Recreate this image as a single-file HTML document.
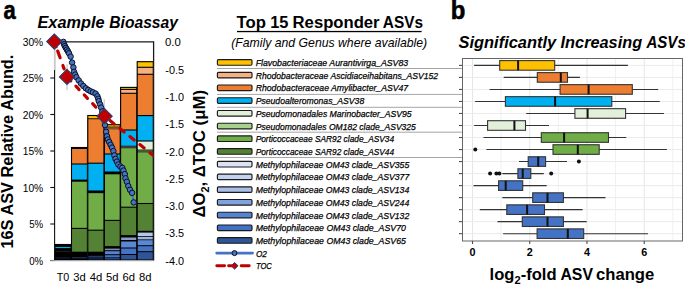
<!DOCTYPE html>
<html><head><meta charset="utf-8"><style>
html,body{margin:0;padding:0;background:#fff;}
svg{display:block;font-family:"Liberation Sans", sans-serif;}
</style></head><body>
<svg xmlns="http://www.w3.org/2000/svg" width="685" height="284" viewBox="0 0 685 284">
<rect width="685" height="284" fill="#fff"/>
<text x="3.4" y="18.7" font-size="25.5" font-weight="bold" font-style="normal" text-anchor="start" textLength="12.2" lengthAdjust="spacingAndGlyphs" fill="#000" stroke="#000" stroke-width="0.6">a</text>
<text x="37.5" y="28.2" font-size="15.6" font-weight="bold" font-style="italic" text-anchor="start" textLength="67.0" lengthAdjust="spacingAndGlyphs" fill="#000" >Example</text>
<text x="109.3" y="28.2" font-size="15.6" font-weight="bold" font-style="italic" text-anchor="start" textLength="68.6" lengthAdjust="spacingAndGlyphs" fill="#000" >Bioassay</text>
<text transform="translate(13.2,248.6) rotate(-90)" font-size="16.3" font-weight="bold" textLength="194" lengthAdjust="spacingAndGlyphs">16S ASV Relative Abund.</text>
<text x="43.2" y="45.5" font-size="11.2" font-weight="normal" font-style="normal" text-anchor="end" textLength="20.5" lengthAdjust="spacingAndGlyphs" fill="#000" >30%</text>
<line x1="50.3" y1="41.50" x2="54.6" y2="41.50" stroke="#111" stroke-width="1.1"/>
<text x="43.2" y="82.0" font-size="11.2" font-weight="normal" font-style="normal" text-anchor="end" textLength="20.5" lengthAdjust="spacingAndGlyphs" fill="#000" >25%</text>
<line x1="50.3" y1="78.00" x2="54.6" y2="78.00" stroke="#111" stroke-width="1.1"/>
<text x="43.2" y="118.5" font-size="11.2" font-weight="normal" font-style="normal" text-anchor="end" textLength="20.5" lengthAdjust="spacingAndGlyphs" fill="#000" >20%</text>
<line x1="50.3" y1="114.50" x2="54.6" y2="114.50" stroke="#111" stroke-width="1.1"/>
<text x="43.2" y="155.0" font-size="11.2" font-weight="normal" font-style="normal" text-anchor="end" textLength="20.5" lengthAdjust="spacingAndGlyphs" fill="#000" >15%</text>
<line x1="50.3" y1="151.00" x2="54.6" y2="151.00" stroke="#111" stroke-width="1.1"/>
<text x="43.2" y="191.5" font-size="11.2" font-weight="normal" font-style="normal" text-anchor="end" textLength="20.5" lengthAdjust="spacingAndGlyphs" fill="#000" >10%</text>
<line x1="50.3" y1="187.50" x2="54.6" y2="187.50" stroke="#111" stroke-width="1.1"/>
<text x="43.2" y="228.0" font-size="11.2" font-weight="normal" font-style="normal" text-anchor="end" textLength="14.0" lengthAdjust="spacingAndGlyphs" fill="#000" >5%</text>
<line x1="50.3" y1="224.00" x2="54.6" y2="224.00" stroke="#111" stroke-width="1.1"/>
<text x="43.2" y="264.5" font-size="11.2" font-weight="normal" font-style="normal" text-anchor="end" textLength="14.0" lengthAdjust="spacingAndGlyphs" fill="#000" >0%</text>
<line x1="50.3" y1="260.50" x2="54.6" y2="260.50" stroke="#111" stroke-width="1.1"/>
<rect x="54.6" y="244" width="16.70" height="16.00" fill="#000000"/>
<rect x="54.6" y="247" width="16.70" height="13.00" fill="#00B0F0"/>
<rect x="54.6" y="248.1" width="16.70" height="11.90" fill="#000000"/>
<rect x="54.6" y="250.8" width="16.70" height="9.20" fill="#1e2a16"/>
<rect x="54.6" y="251.8" width="16.70" height="8.20" fill="#000000"/>
<rect x="54.6" y="257.4" width="16.70" height="2.60" fill="#13213a"/>
<rect x="54.6" y="258.6" width="16.70" height="1.40" fill="#000000"/>
<rect x="54.800000000000004" y="244.5" width="16.30" height="15.50" fill="none" stroke="#000" stroke-width="1.1"/>
<rect x="71.3" y="147" width="16.30" height="113.00" fill="#000000"/>
<rect x="71.3" y="149" width="16.30" height="111.00" fill="#ED7D31"/>
<rect x="71.3" y="164" width="16.30" height="96.00" fill="#00B0F0"/>
<rect x="71.3" y="179.6" width="16.30" height="80.40" fill="#000000"/>
<rect x="71.3" y="181.7" width="16.30" height="78.30" fill="#70AD47"/>
<rect x="71.3" y="228.4" width="16.30" height="31.60" fill="#548235"/>
<rect x="71.3" y="251.7" width="16.30" height="8.30" fill="#000000"/>
<rect x="71.3" y="257" width="16.30" height="3.00" fill="#1a2c4e"/>
<rect x="71.3" y="258.4" width="16.30" height="1.60" fill="#000000"/>
<rect x="71.5" y="147.5" width="15.90" height="112.50" fill="none" stroke="#000" stroke-width="1.1"/>
<rect x="87.6" y="115.0" width="16.60" height="145.00" fill="#FFC000"/>
<rect x="87.6" y="118.3" width="16.60" height="141.70" fill="#000000"/>
<rect x="87.6" y="119.2" width="16.60" height="140.80" fill="#ED7D31"/>
<rect x="87.6" y="163.2" width="16.60" height="96.80" fill="#00B0F0"/>
<rect x="87.6" y="190.5" width="16.60" height="69.50" fill="#000000"/>
<rect x="87.6" y="192.6" width="16.60" height="67.40" fill="#70AD47"/>
<rect x="87.6" y="230.2" width="16.60" height="29.80" fill="#548235"/>
<rect x="87.6" y="251.7" width="16.60" height="8.30" fill="#000000"/>
<rect x="87.6" y="255.8" width="16.60" height="4.20" fill="#22386a"/>
<rect x="87.6" y="257.6" width="16.60" height="2.40" fill="#000000"/>
<rect x="87.6" y="258.4" width="16.60" height="1.60" fill="#1c3260"/>
<rect x="87.8" y="115.5" width="16.20" height="144.50" fill="none" stroke="#000" stroke-width="1.1"/>
<rect x="104.2" y="124.2" width="16.20" height="135.80" fill="#FFC000"/>
<rect x="104.2" y="126.6" width="16.20" height="133.40" fill="#000000"/>
<rect x="104.2" y="127.1" width="16.20" height="132.90" fill="#7a573a"/>
<rect x="104.2" y="129.5" width="16.20" height="130.50" fill="#ED7D31"/>
<rect x="104.2" y="154" width="16.20" height="106.00" fill="#00B0F0"/>
<rect x="104.2" y="171.5" width="16.20" height="88.50" fill="#000000"/>
<rect x="104.2" y="174.3" width="16.20" height="85.70" fill="#70AD47"/>
<rect x="104.2" y="220.4" width="16.20" height="39.60" fill="#548235"/>
<rect x="104.2" y="246.1" width="16.20" height="13.90" fill="#000000"/>
<rect x="104.2" y="248.6" width="16.20" height="11.40" fill="#8090b0"/>
<rect x="104.2" y="250.2" width="16.20" height="9.80" fill="#000000"/>
<rect x="104.2" y="251.2" width="16.20" height="8.80" fill="#5583D3"/>
<rect x="104.2" y="254.2" width="16.20" height="5.80" fill="#000000"/>
<rect x="104.2" y="255.2" width="16.20" height="4.80" fill="#4472C4"/>
<rect x="104.2" y="257.4" width="16.20" height="2.60" fill="#000000"/>
<rect x="104.2" y="258.2" width="16.20" height="1.80" fill="#2F5597"/>
<rect x="104.4" y="124.7" width="15.80" height="135.30" fill="none" stroke="#000" stroke-width="1.1"/>
<rect x="120.4" y="86.9" width="16.60" height="173.10" fill="#FFC000"/>
<rect x="120.4" y="89.4" width="16.60" height="170.60" fill="#F4B183"/>
<rect x="120.4" y="93.3" width="16.60" height="166.70" fill="#ED7D31"/>
<rect x="120.4" y="130" width="16.60" height="130.00" fill="#00B0F0"/>
<rect x="120.4" y="145.6" width="16.60" height="114.40" fill="#3a3a3a"/>
<rect x="120.4" y="148.3" width="16.60" height="111.70" fill="#70AD47"/>
<rect x="120.4" y="207.2" width="16.60" height="52.80" fill="#548235"/>
<rect x="120.4" y="235.1" width="16.60" height="24.90" fill="#000000"/>
<rect x="120.4" y="237.5" width="16.60" height="22.50" fill="#8a9cc4"/>
<rect x="120.4" y="240" width="16.60" height="20.00" fill="#000000"/>
<rect x="120.4" y="241.5" width="16.60" height="18.50" fill="#5A88D5"/>
<rect x="120.4" y="247.5" width="16.60" height="12.50" fill="#000000"/>
<rect x="120.4" y="248.5" width="16.60" height="11.50" fill="#4472C4"/>
<rect x="120.4" y="254" width="16.60" height="6.00" fill="#000000"/>
<rect x="120.4" y="255" width="16.60" height="5.00" fill="#2F5597"/>
<rect x="120.60000000000001" y="87.4" width="16.20" height="172.60" fill="none" stroke="#000" stroke-width="1.1"/>
<rect x="137.0" y="61.2" width="16.50" height="198.80" fill="#FFC000"/>
<rect x="137.0" y="67.3" width="16.50" height="192.70" fill="#F4B183"/>
<rect x="137.0" y="74.3" width="16.50" height="185.70" fill="#ED7D31"/>
<rect x="137.0" y="115.6" width="16.50" height="144.40" fill="#00B0F0"/>
<rect x="137.0" y="141" width="16.50" height="119.00" fill="#E2F0D9"/>
<rect x="137.0" y="149.4" width="16.50" height="110.60" fill="#3d5a30"/>
<rect x="137.0" y="152.6" width="16.50" height="107.40" fill="#70AD47"/>
<rect x="137.0" y="203.5" width="16.50" height="56.50" fill="#548235"/>
<rect x="137.0" y="230.8" width="16.50" height="29.20" fill="#000000"/>
<rect x="137.0" y="232.6" width="16.50" height="27.40" fill="#B4C7E7"/>
<rect x="137.0" y="236.2" width="16.50" height="23.80" fill="#000000"/>
<rect x="137.0" y="237" width="16.50" height="23.00" fill="#9DB5E3"/>
<rect x="137.0" y="239.4" width="16.50" height="20.60" fill="#000000"/>
<rect x="137.0" y="240.2" width="16.50" height="19.80" fill="#5A88D5"/>
<rect x="137.0" y="245.2" width="16.50" height="14.80" fill="#000000"/>
<rect x="137.0" y="246.2" width="16.50" height="13.80" fill="#4472C4"/>
<rect x="137.0" y="251.2" width="16.50" height="8.80" fill="#000000"/>
<rect x="137.0" y="252.2" width="16.50" height="7.80" fill="#2F5597"/>
<rect x="137.2" y="61.7" width="16.10" height="198.30" fill="none" stroke="#000" stroke-width="1.1"/>
<line x1="71.3" y1="164" x2="87.6" y2="164" stroke="#000" stroke-width="1.1"/>
<line x1="71.3" y1="228.4" x2="87.6" y2="228.4" stroke="#000" stroke-width="1.1"/>
<line x1="87.6" y1="163.2" x2="104.2" y2="163.2" stroke="#000" stroke-width="1.1"/>
<line x1="87.6" y1="192.6" x2="104.2" y2="192.6" stroke="#000" stroke-width="1.1"/>
<line x1="87.6" y1="230.2" x2="104.2" y2="230.2" stroke="#000" stroke-width="1.1"/>
<line x1="104.2" y1="154" x2="120.4" y2="154" stroke="#000" stroke-width="1.1"/>
<line x1="104.2" y1="220.4" x2="120.4" y2="220.4" stroke="#000" stroke-width="1.1"/>
<line x1="120.4" y1="89.4" x2="137.0" y2="89.4" stroke="#000" stroke-width="1.1"/>
<line x1="120.4" y1="93.3" x2="137.0" y2="93.3" stroke="#000" stroke-width="1.1"/>
<line x1="120.4" y1="130" x2="137.0" y2="130" stroke="#000" stroke-width="1.1"/>
<line x1="120.4" y1="207.2" x2="137.0" y2="207.2" stroke="#000" stroke-width="1.1"/>
<line x1="137.0" y1="67.3" x2="153.5" y2="67.3" stroke="#000" stroke-width="1.1"/>
<line x1="137.0" y1="74.3" x2="153.5" y2="74.3" stroke="#000" stroke-width="1.1"/>
<line x1="137.0" y1="115.6" x2="153.5" y2="115.6" stroke="#000" stroke-width="1.1"/>
<line x1="137.0" y1="141" x2="153.5" y2="141" stroke="#000" stroke-width="1.1"/>
<line x1="137.0" y1="203.5" x2="153.5" y2="203.5" stroke="#000" stroke-width="1.1"/>
<line x1="54.6" y1="41.9" x2="153.6" y2="41.9" stroke="#1a1a1a" stroke-width="1.3"/>
<line x1="153.6" y1="41.3" x2="153.6" y2="260.5" stroke="#1a1a1a" stroke-width="1.3"/>
<line x1="54.6" y1="41.5" x2="54.6" y2="260.8" stroke="#111" stroke-width="1.1"/>
<line x1="50.5" y1="260.8" x2="153.6" y2="260.8" stroke="#bfbfbf" stroke-width="1"/>
<text x="62.95" y="281.3" font-size="11.5" font-weight="normal" font-style="normal" text-anchor="middle" textLength="12.5" lengthAdjust="spacingAndGlyphs" fill="#000" >T0</text>
<text x="79.45" y="281.3" font-size="11.5" font-weight="normal" font-style="normal" text-anchor="middle" textLength="12.5" lengthAdjust="spacingAndGlyphs" fill="#000" >3d</text>
<text x="95.9" y="281.3" font-size="11.5" font-weight="normal" font-style="normal" text-anchor="middle" textLength="12.5" lengthAdjust="spacingAndGlyphs" fill="#000" >4d</text>
<text x="112.3" y="281.3" font-size="11.5" font-weight="normal" font-style="normal" text-anchor="middle" textLength="12.5" lengthAdjust="spacingAndGlyphs" fill="#000" >5d</text>
<text x="128.7" y="281.3" font-size="11.5" font-weight="normal" font-style="normal" text-anchor="middle" textLength="12.5" lengthAdjust="spacingAndGlyphs" fill="#000" >6d</text>
<text x="145.25" y="281.3" font-size="11.5" font-weight="normal" font-style="normal" text-anchor="middle" textLength="12.5" lengthAdjust="spacingAndGlyphs" fill="#000" >8d</text>
<text x="165.0" y="46.3" font-size="11.2" font-weight="normal" font-style="normal" text-anchor="start" textLength="15.8" lengthAdjust="spacingAndGlyphs" fill="#000" >0.0</text>
<text x="165.3" y="73.6" font-size="11.2" font-weight="normal" font-style="normal" text-anchor="start" textLength="18.8" lengthAdjust="spacingAndGlyphs" fill="#000" >-0.5</text>
<text x="165.3" y="100.9" font-size="11.2" font-weight="normal" font-style="normal" text-anchor="start" textLength="18.8" lengthAdjust="spacingAndGlyphs" fill="#000" >-1.0</text>
<text x="165.3" y="128.2" font-size="11.2" font-weight="normal" font-style="normal" text-anchor="start" textLength="18.8" lengthAdjust="spacingAndGlyphs" fill="#000" >-1.5</text>
<text x="165.3" y="155.5" font-size="11.2" font-weight="normal" font-style="normal" text-anchor="start" textLength="18.8" lengthAdjust="spacingAndGlyphs" fill="#000" >-2.0</text>
<text x="165.3" y="182.8" font-size="11.2" font-weight="normal" font-style="normal" text-anchor="start" textLength="18.8" lengthAdjust="spacingAndGlyphs" fill="#000" >-2.5</text>
<text x="165.3" y="210.1" font-size="11.2" font-weight="normal" font-style="normal" text-anchor="start" textLength="18.8" lengthAdjust="spacingAndGlyphs" fill="#000" >-3.0</text>
<text x="165.3" y="237.4" font-size="11.2" font-weight="normal" font-style="normal" text-anchor="start" textLength="18.8" lengthAdjust="spacingAndGlyphs" fill="#000" >-3.5</text>
<text x="165.3" y="264.7" font-size="11.2" font-weight="normal" font-style="normal" text-anchor="start" textLength="18.8" lengthAdjust="spacingAndGlyphs" fill="#000" >-4.0</text>
<text transform="translate(205.4,217.6) rotate(-90)" font-size="16.3" font-weight="bold" textLength="127.6" lengthAdjust="spacingAndGlyphs">&#916;O<tspan font-size="10.5" dy="3.5">2</tspan><tspan dy="-3.5">, &#916;TOC (&#956;M)</tspan></text>
<line x1="54.5" y1="42" x2="54.5" y2="70" stroke="#c8c8c8" stroke-width="1.2"/>
<line x1="67.0" y1="64.2" x2="67.0" y2="90.3" stroke="#c8c8c8" stroke-width="1.2"/>
<line x1="104.2" y1="99.2" x2="104.2" y2="121" stroke="#c8c8c8" stroke-width="1.2"/>
<line x1="54.91" y1="43.29" x2="56.13" y2="46.68" stroke="#C00000" stroke-width="3.2" stroke-linecap="round"/>
<line x1="57.72" y1="51.10" x2="60.12" y2="57.78" stroke="#C00000" stroke-width="3.2" stroke-linecap="round"/>
<line x1="62.90" y1="65.50" x2="64.12" y2="68.89" stroke="#C00000" stroke-width="3.2" stroke-linecap="round"/>
<line x1="66.89" y1="76.60" x2="66.62" y2="75.85" stroke="#C00000" stroke-width="3.2" stroke-linecap="round"/>
<line x1="68.11" y1="78.06" x2="70.80" y2="80.87" stroke="#C00000" stroke-width="3.2" stroke-linecap="round"/>
<line x1="75.92" y1="86.22" x2="79.10" y2="89.54" stroke="#C00000" stroke-width="3.2" stroke-linecap="round"/>
<line x1="84.28" y1="94.96" x2="87.46" y2="98.29" stroke="#C00000" stroke-width="3.2" stroke-linecap="round"/>
<line x1="92.65" y1="103.71" x2="95.83" y2="107.03" stroke="#C00000" stroke-width="3.2" stroke-linecap="round"/>
<line x1="101.01" y1="112.45" x2="103.92" y2="115.48" stroke="#C00000" stroke-width="3.2" stroke-linecap="round"/>
<defs><clipPath id="pa"><rect x="40" y="30" width="113.6" height="240"/></clipPath></defs>
<g clip-path="url(#pa)">
<line x1="105.85" y1="117.20" x2="104.13" y2="115.82" stroke="#C00000" stroke-width="3.2" stroke-linecap="round"/>
<line x1="109.98" y1="120.53" x2="114.18" y2="123.91" stroke="#C00000" stroke-width="3.2" stroke-linecap="round"/>
<line x1="119.95" y1="128.55" x2="124.15" y2="131.94" stroke="#C00000" stroke-width="3.2" stroke-linecap="round"/>
<line x1="129.92" y1="136.58" x2="134.12" y2="139.96" stroke="#C00000" stroke-width="3.2" stroke-linecap="round"/>
<line x1="139.89" y1="144.60" x2="144.10" y2="147.99" stroke="#C00000" stroke-width="3.2" stroke-linecap="round"/>
<line x1="149.86" y1="152.63" x2="154.07" y2="156.02" stroke="#C00000" stroke-width="3.2" stroke-linecap="round"/>
</g>
<polyline points="58,41.6 63.4,41.9 64.1,44.3 64.9,46.1 65.9,47.9 66.9,49.6 68,51.4 69,53.3 70.6,56.6 72.1,62.6 73.4,67.4 74.0,71.8 75.2,74.6 76.4,77.2 78.7,80.4 81,83.5 83.4,86 85.8,88.3 88.2,89.9 90.6,91.3 92.9,92.3 95.6,93.6 97.4,96.2 98.3,98.8 98.8,101.2 100.1,104.3 101.2,107.6 102.3,111.5 103.3,115.5 104.3,120 105,125.1 106.1,131.8 107,136.3 107.9,139.5 109.2,142 110.6,144.8 112,147.6 113.4,151.1 114.4,155.4 115.5,158.9 116.9,161.7 118.3,164.5 120.4,166.6 122.3,167.9 123.4,170.6 124.8,174.1 125.5,178.3 126.9,181.8 128.3,186.1 130,189.8 132.1,192.9 133.7,202.4" fill="none" stroke="#4472C4" stroke-width="2"/>
<circle cx="58" cy="41.6" r="2.75" fill="#4472C4" stroke="#0a1020" stroke-width="1"/>
<circle cx="63.4" cy="41.9" r="2.75" fill="#4472C4" stroke="#0a1020" stroke-width="1"/>
<circle cx="64.1" cy="44.3" r="2.75" fill="#4472C4" stroke="#0a1020" stroke-width="1"/>
<circle cx="64.9" cy="46.1" r="2.75" fill="#4472C4" stroke="#0a1020" stroke-width="1"/>
<circle cx="65.9" cy="47.9" r="2.75" fill="#4472C4" stroke="#0a1020" stroke-width="1"/>
<circle cx="66.9" cy="49.6" r="2.75" fill="#4472C4" stroke="#0a1020" stroke-width="1"/>
<circle cx="68" cy="51.4" r="2.75" fill="#4472C4" stroke="#0a1020" stroke-width="1"/>
<circle cx="69" cy="53.3" r="2.75" fill="#4472C4" stroke="#0a1020" stroke-width="1"/>
<circle cx="70.6" cy="56.6" r="2.75" fill="#4472C4" stroke="#0a1020" stroke-width="1"/>
<circle cx="72.1" cy="62.6" r="2.75" fill="#4472C4" stroke="#0a1020" stroke-width="1"/>
<circle cx="73.4" cy="67.4" r="2.75" fill="#4472C4" stroke="#0a1020" stroke-width="1"/>
<circle cx="74.0" cy="71.8" r="2.75" fill="#4472C4" stroke="#0a1020" stroke-width="1"/>
<circle cx="75.2" cy="74.6" r="2.75" fill="#4472C4" stroke="#0a1020" stroke-width="1"/>
<circle cx="76.4" cy="77.2" r="2.75" fill="#4472C4" stroke="#0a1020" stroke-width="1"/>
<circle cx="78.7" cy="80.4" r="2.75" fill="#4472C4" stroke="#0a1020" stroke-width="1"/>
<circle cx="81" cy="83.5" r="2.75" fill="#4472C4" stroke="#0a1020" stroke-width="1"/>
<circle cx="83.4" cy="86" r="2.75" fill="#4472C4" stroke="#0a1020" stroke-width="1"/>
<circle cx="85.8" cy="88.3" r="2.75" fill="#4472C4" stroke="#0a1020" stroke-width="1"/>
<circle cx="88.2" cy="89.9" r="2.75" fill="#4472C4" stroke="#0a1020" stroke-width="1"/>
<circle cx="90.6" cy="91.3" r="2.75" fill="#4472C4" stroke="#0a1020" stroke-width="1"/>
<circle cx="92.9" cy="92.3" r="2.75" fill="#4472C4" stroke="#0a1020" stroke-width="1"/>
<circle cx="95.6" cy="93.6" r="2.75" fill="#4472C4" stroke="#0a1020" stroke-width="1"/>
<circle cx="97.4" cy="96.2" r="2.75" fill="#4472C4" stroke="#0a1020" stroke-width="1"/>
<circle cx="98.3" cy="98.8" r="2.75" fill="#4472C4" stroke="#0a1020" stroke-width="1"/>
<circle cx="98.8" cy="101.2" r="2.75" fill="#4472C4" stroke="#0a1020" stroke-width="1"/>
<circle cx="100.1" cy="104.3" r="2.75" fill="#4472C4" stroke="#0a1020" stroke-width="1"/>
<circle cx="101.2" cy="107.6" r="2.75" fill="#4472C4" stroke="#0a1020" stroke-width="1"/>
<circle cx="102.3" cy="111.5" r="2.75" fill="#4472C4" stroke="#0a1020" stroke-width="1"/>
<circle cx="103.3" cy="115.5" r="2.75" fill="#4472C4" stroke="#0a1020" stroke-width="1"/>
<circle cx="104.3" cy="120" r="2.75" fill="#4472C4" stroke="#0a1020" stroke-width="1"/>
<circle cx="105" cy="125.1" r="2.75" fill="#4472C4" stroke="#0a1020" stroke-width="1"/>
<circle cx="106.1" cy="131.8" r="2.75" fill="#4472C4" stroke="#0a1020" stroke-width="1"/>
<circle cx="107" cy="136.3" r="2.75" fill="#4472C4" stroke="#0a1020" stroke-width="1"/>
<circle cx="107.9" cy="139.5" r="2.75" fill="#4472C4" stroke="#0a1020" stroke-width="1"/>
<circle cx="109.2" cy="142" r="2.75" fill="#4472C4" stroke="#0a1020" stroke-width="1"/>
<circle cx="110.6" cy="144.8" r="2.75" fill="#4472C4" stroke="#0a1020" stroke-width="1"/>
<circle cx="112" cy="147.6" r="2.75" fill="#4472C4" stroke="#0a1020" stroke-width="1"/>
<circle cx="113.4" cy="151.1" r="2.75" fill="#4472C4" stroke="#0a1020" stroke-width="1"/>
<circle cx="114.4" cy="155.4" r="2.75" fill="#4472C4" stroke="#0a1020" stroke-width="1"/>
<circle cx="115.5" cy="158.9" r="2.75" fill="#4472C4" stroke="#0a1020" stroke-width="1"/>
<circle cx="116.9" cy="161.7" r="2.75" fill="#4472C4" stroke="#0a1020" stroke-width="1"/>
<circle cx="118.3" cy="164.5" r="2.75" fill="#4472C4" stroke="#0a1020" stroke-width="1"/>
<circle cx="120.4" cy="166.6" r="2.75" fill="#4472C4" stroke="#0a1020" stroke-width="1"/>
<circle cx="122.3" cy="167.9" r="2.75" fill="#4472C4" stroke="#0a1020" stroke-width="1"/>
<circle cx="123.4" cy="170.6" r="2.75" fill="#4472C4" stroke="#0a1020" stroke-width="1"/>
<circle cx="124.8" cy="174.1" r="2.75" fill="#4472C4" stroke="#0a1020" stroke-width="1"/>
<circle cx="125.5" cy="178.3" r="2.75" fill="#4472C4" stroke="#0a1020" stroke-width="1"/>
<circle cx="126.9" cy="181.8" r="2.75" fill="#4472C4" stroke="#0a1020" stroke-width="1"/>
<circle cx="128.3" cy="186.1" r="2.75" fill="#4472C4" stroke="#0a1020" stroke-width="1"/>
<circle cx="130" cy="189.8" r="2.75" fill="#4472C4" stroke="#0a1020" stroke-width="1"/>
<circle cx="132.1" cy="192.9" r="2.75" fill="#4472C4" stroke="#0a1020" stroke-width="1"/>
<circle cx="133.7" cy="202.4" r="2.75" fill="#4472C4" stroke="#0a1020" stroke-width="1"/>
<polygon points="54.3,34.0 61.9,41.6 54.3,49.2 46.699999999999996,41.6" fill="#C00000" stroke="#2f3d6e" stroke-width="1.1"/>
<polygon points="67,69.30000000000001 74.6,76.9 67,84.5 59.4,76.9" fill="#C00000" stroke="#2f3d6e" stroke-width="1.1"/>
<polygon points="104.6,108.60000000000001 112.19999999999999,116.2 104.6,123.8 97.0,116.2" fill="#C00000" stroke="#2f3d6e" stroke-width="1.1"/>
<text x="236.6" y="28" font-size="15.8" font-weight="bold" font-style="normal" text-anchor="start" textLength="29.4" lengthAdjust="spacingAndGlyphs" fill="#000" >Top</text>
<text x="270.2" y="28" font-size="15.8" font-weight="bold" font-style="normal" text-anchor="start" textLength="18.2" lengthAdjust="spacingAndGlyphs" fill="#000" >15</text>
<text x="292.6" y="28" font-size="15.8" font-weight="bold" font-style="normal" text-anchor="start" textLength="87.0" lengthAdjust="spacingAndGlyphs" fill="#000" >Responder</text>
<text x="382.8" y="28" font-size="15.8" font-weight="bold" font-style="normal" text-anchor="start" textLength="40.2" lengthAdjust="spacingAndGlyphs" fill="#000" >ASVs</text>
<rect x="237" y="30.9" width="184.6" height="1.3" fill="#000"/>
<text x="231.2" y="47.3" font-size="12.2" font-weight="normal" font-style="italic" text-anchor="start" textLength="196" lengthAdjust="spacingAndGlyphs" fill="#000" >(Family and Genus where available)</text>
<line x1="217" y1="68.5" x2="462.4" y2="68.5" stroke="#a6a6a6" stroke-width="1"/>
<line x1="217" y1="94.4" x2="462.4" y2="94.4" stroke="#a6a6a6" stroke-width="1"/>
<line x1="217" y1="107.3" x2="462.4" y2="107.3" stroke="#a6a6a6" stroke-width="1"/>
<line x1="217" y1="132.2" x2="462.4" y2="132.2" stroke="#a6a6a6" stroke-width="1"/>
<line x1="217" y1="157.5" x2="462.4" y2="157.5" stroke="#a6a6a6" stroke-width="1"/>
<rect x="217.4" y="59.60" width="34.6" height="5.6" rx="1.1" fill="#FFC000" stroke="#1a1a1a" stroke-width="1.15"/>
<text x="255.7" y="65.9" font-size="9.6" font-weight="normal" font-style="italic" text-anchor="start" textLength="152.5" lengthAdjust="spacingAndGlyphs" fill="#000" stroke="#000" stroke-width="0.25">Flavobacteriaceae Aurantivirga_ASV83</text>
<rect x="217.4" y="72.32" width="34.6" height="5.6" rx="1.1" fill="#F4B183" stroke="#1a1a1a" stroke-width="1.15"/>
<text x="255.7" y="78.62" font-size="9.6" font-weight="normal" font-style="italic" text-anchor="start" textLength="182.4" lengthAdjust="spacingAndGlyphs" fill="#000" stroke="#000" stroke-width="0.25">Rhodobacteraceae Ascidiaceihabitans_ASV152</text>
<rect x="217.4" y="85.04" width="34.6" height="5.6" rx="1.1" fill="#ED7D31" stroke="#1a1a1a" stroke-width="1.15"/>
<text x="255.7" y="91.34" font-size="9.6" font-weight="normal" font-style="italic" text-anchor="start" textLength="152.5" lengthAdjust="spacingAndGlyphs" fill="#000" stroke="#000" stroke-width="0.25">Rhodobacteraceae Amylibacter_ASV47</text>
<rect x="217.4" y="97.76" width="34.6" height="5.6" rx="1.1" fill="#00B0F0" stroke="#1a1a1a" stroke-width="1.15"/>
<text x="255.7" y="104.06" font-size="9.6" font-weight="normal" font-style="italic" text-anchor="start" textLength="108.5" lengthAdjust="spacingAndGlyphs" fill="#000" stroke="#000" stroke-width="0.25">Pseudoalteromonas_ASV38</text>
<rect x="217.4" y="110.48" width="34.6" height="5.6" rx="1.1" fill="#E2F0D9" stroke="#1a1a1a" stroke-width="1.15"/>
<text x="255.7" y="116.78" font-size="9.6" font-weight="normal" font-style="italic" text-anchor="start" textLength="156.0" lengthAdjust="spacingAndGlyphs" fill="#000" stroke="#000" stroke-width="0.25">Pseudomonadales Marinobacter_ASV95</text>
<rect x="217.4" y="123.20" width="34.6" height="5.6" rx="1.1" fill="#A9D18E" stroke="#1a1a1a" stroke-width="1.15"/>
<text x="255.7" y="129.5" font-size="9.6" font-weight="normal" font-style="italic" text-anchor="start" textLength="160.2" lengthAdjust="spacingAndGlyphs" fill="#000" stroke="#000" stroke-width="0.25">Pseudomonadales OM182 clade_ASV325</text>
<rect x="217.4" y="135.92" width="34.6" height="5.6" rx="1.1" fill="#70AD47" stroke="#1a1a1a" stroke-width="1.15"/>
<text x="255.7" y="142.22" font-size="9.6" font-weight="normal" font-style="italic" text-anchor="start" textLength="138.4" lengthAdjust="spacingAndGlyphs" fill="#000" stroke="#000" stroke-width="0.25">Porticoccaceae SAR92 clade_ASV34</text>
<rect x="217.4" y="148.64" width="34.6" height="5.6" rx="1.1" fill="#548235" stroke="#1a1a1a" stroke-width="1.15"/>
<text x="255.7" y="154.94" font-size="9.6" font-weight="normal" font-style="italic" text-anchor="start" textLength="138.4" lengthAdjust="spacingAndGlyphs" fill="#000" stroke="#000" stroke-width="0.25">Porticoccaceae SAR92 clade_ASV44</text>
<rect x="217.4" y="161.36" width="34.6" height="5.6" rx="1.1" fill="#DAE3F3" stroke="#1a1a1a" stroke-width="1.15"/>
<text x="255.7" y="167.66" font-size="9.6" font-weight="normal" font-style="italic" text-anchor="start" textLength="153.6" lengthAdjust="spacingAndGlyphs" fill="#000" stroke="#000" stroke-width="0.25">Methylophilaceae OM43 clade_ASV355</text>
<rect x="217.4" y="174.08" width="34.6" height="5.6" rx="1.1" fill="#C3D2EE" stroke="#1a1a1a" stroke-width="1.15"/>
<text x="255.7" y="180.38" font-size="9.6" font-weight="normal" font-style="italic" text-anchor="start" textLength="153.6" lengthAdjust="spacingAndGlyphs" fill="#000" stroke="#000" stroke-width="0.25">Methylophilaceae OM43 clade_ASV377</text>
<rect x="217.4" y="186.80" width="34.6" height="5.6" rx="1.1" fill="#A9BFE6" stroke="#1a1a1a" stroke-width="1.15"/>
<text x="255.7" y="193.1" font-size="9.6" font-weight="normal" font-style="italic" text-anchor="start" textLength="153.6" lengthAdjust="spacingAndGlyphs" fill="#000" stroke="#000" stroke-width="0.25">Methylophilaceae OM43 clade_ASV134</text>
<rect x="217.4" y="199.52" width="34.6" height="5.6" rx="1.1" fill="#7FA1DF" stroke="#1a1a1a" stroke-width="1.15"/>
<text x="255.7" y="205.82" font-size="9.6" font-weight="normal" font-style="italic" text-anchor="start" textLength="153.6" lengthAdjust="spacingAndGlyphs" fill="#000" stroke="#000" stroke-width="0.25">Methylophilaceae OM43 clade_ASV244</text>
<rect x="217.4" y="212.24" width="34.6" height="5.6" rx="1.1" fill="#5283D6" stroke="#1a1a1a" stroke-width="1.15"/>
<text x="255.7" y="218.54" font-size="9.6" font-weight="normal" font-style="italic" text-anchor="start" textLength="153.6" lengthAdjust="spacingAndGlyphs" fill="#000" stroke="#000" stroke-width="0.25">Methylophilaceae OM43 clade_ASV132</text>
<rect x="217.4" y="224.96" width="34.6" height="5.6" rx="1.1" fill="#4170C6" stroke="#1a1a1a" stroke-width="1.15"/>
<text x="255.7" y="231.26" font-size="9.6" font-weight="normal" font-style="italic" text-anchor="start" textLength="150.2" lengthAdjust="spacingAndGlyphs" fill="#000" stroke="#000" stroke-width="0.25">Methylophilaceae OM43 clade_ASV70</text>
<rect x="217.4" y="237.68" width="34.6" height="5.6" rx="1.1" fill="#2F5597" stroke="#1a1a1a" stroke-width="1.15"/>
<text x="255.7" y="243.98" font-size="9.6" font-weight="normal" font-style="italic" text-anchor="start" textLength="150.2" lengthAdjust="spacingAndGlyphs" fill="#000" stroke="#000" stroke-width="0.25">Methylophilaceae OM43 clade_ASV65</text>
<line x1="216.6" y1="253.1" x2="252.6" y2="253.1" stroke="#4472C4" stroke-width="2.6" stroke-linecap="round"/>
<circle cx="234.5" cy="253.1" r="2.5" fill="#4472C4" stroke="#111" stroke-width="1"/>
<text x="255.9" y="256.7" font-size="9.9" font-weight="normal" font-style="italic" text-anchor="start" textLength="11" lengthAdjust="spacingAndGlyphs" fill="#000" stroke="#000" stroke-width="0.25">O2</text>
<line x1="216.8" y1="265.8" x2="224.6" y2="265.8" stroke="#C00000" stroke-width="2.9" stroke-linecap="round"/>
<line x1="228.6" y1="265.8" x2="236" y2="265.8" stroke="#C00000" stroke-width="2.9" stroke-linecap="round"/>
<line x1="241.2" y1="265.8" x2="249.2" y2="265.8" stroke="#C00000" stroke-width="2.9" stroke-linecap="round"/>
<polygon points="234.6,262.40000000000003 238.0,265.8 234.6,269.2 231.2,265.8" fill="#C00000" stroke="#2f3d6e" stroke-width="0.9"/>
<text x="255.9" y="269.4" font-size="9.9" font-weight="normal" font-style="italic" text-anchor="start" textLength="16" lengthAdjust="spacingAndGlyphs" fill="#000" stroke="#000" stroke-width="0.25">TOC</text>
<text x="450.8" y="18.7" font-size="26" font-weight="bold" font-style="normal" text-anchor="start" textLength="14.6" lengthAdjust="spacingAndGlyphs" fill="#000" stroke="#000" stroke-width="0.6">b</text>
<text x="458.6" y="47.8" font-size="15.8" font-weight="bold" font-style="italic" text-anchor="start" textLength="97.5" lengthAdjust="spacingAndGlyphs" fill="#000" >Significantly</text>
<text x="560.6" y="47.8" font-size="15.8" font-weight="bold" font-style="italic" text-anchor="start" textLength="81.5" lengthAdjust="spacingAndGlyphs" fill="#000" >Increasing</text>
<text x="646.4" y="47.8" font-size="15.8" font-weight="bold" font-style="italic" text-anchor="start" textLength="39.4" lengthAdjust="spacingAndGlyphs" fill="#000" >ASVs</text>
<rect x="462.5" y="58.5" width="220.0" height="182.5" fill="#fff"/>
<line x1="472.50" y1="58.5" x2="472.50" y2="241.0" stroke="#e6e6e6" stroke-width="1"/>
<line x1="501.12" y1="58.5" x2="501.12" y2="241.0" stroke="#f0f0f0" stroke-width="1"/>
<line x1="529.74" y1="58.5" x2="529.74" y2="241.0" stroke="#e6e6e6" stroke-width="1"/>
<line x1="558.36" y1="58.5" x2="558.36" y2="241.0" stroke="#f0f0f0" stroke-width="1"/>
<line x1="586.98" y1="58.5" x2="586.98" y2="241.0" stroke="#e6e6e6" stroke-width="1"/>
<line x1="615.60" y1="58.5" x2="615.60" y2="241.0" stroke="#f0f0f0" stroke-width="1"/>
<line x1="644.22" y1="58.5" x2="644.22" y2="241.0" stroke="#e6e6e6" stroke-width="1"/>
<line x1="672.84" y1="58.5" x2="672.84" y2="241.0" stroke="#f0f0f0" stroke-width="1"/>
<line x1="462.5" y1="65.40" x2="682.5" y2="65.40" stroke="#ebebeb" stroke-width="1"/>
<line x1="462.5" y1="77.42" x2="682.5" y2="77.42" stroke="#ebebeb" stroke-width="1"/>
<line x1="462.5" y1="89.44" x2="682.5" y2="89.44" stroke="#ebebeb" stroke-width="1"/>
<line x1="462.5" y1="101.46" x2="682.5" y2="101.46" stroke="#ebebeb" stroke-width="1"/>
<line x1="462.5" y1="113.48" x2="682.5" y2="113.48" stroke="#ebebeb" stroke-width="1"/>
<line x1="462.5" y1="125.50" x2="682.5" y2="125.50" stroke="#ebebeb" stroke-width="1"/>
<line x1="462.5" y1="137.52" x2="682.5" y2="137.52" stroke="#ebebeb" stroke-width="1"/>
<line x1="462.5" y1="149.54" x2="682.5" y2="149.54" stroke="#ebebeb" stroke-width="1"/>
<line x1="462.5" y1="161.56" x2="682.5" y2="161.56" stroke="#ebebeb" stroke-width="1"/>
<line x1="462.5" y1="173.58" x2="682.5" y2="173.58" stroke="#ebebeb" stroke-width="1"/>
<line x1="462.5" y1="185.60" x2="682.5" y2="185.60" stroke="#ebebeb" stroke-width="1"/>
<line x1="462.5" y1="197.62" x2="682.5" y2="197.62" stroke="#ebebeb" stroke-width="1"/>
<line x1="462.5" y1="209.64" x2="682.5" y2="209.64" stroke="#ebebeb" stroke-width="1"/>
<line x1="462.5" y1="221.66" x2="682.5" y2="221.66" stroke="#ebebeb" stroke-width="1"/>
<line x1="462.5" y1="233.68" x2="682.5" y2="233.68" stroke="#ebebeb" stroke-width="1"/>
<line x1="474.1" y1="65.40" x2="627.9" y2="65.40" stroke="#333" stroke-width="1.1"/>
<rect x="499.7" y="60.60" width="55.00" height="9.6" fill="#FFC000" stroke="#333" stroke-width="1.1"/>
<line x1="518.1" y1="60.60" x2="518.1" y2="70.20" stroke="#111" stroke-width="2"/>
<line x1="459.0" y1="65.40" x2="462.5" y2="65.40" stroke="#4d4d4d" stroke-width="1.1"/>
<line x1="503.7" y1="77.42" x2="579.9" y2="77.42" stroke="#333" stroke-width="1.1"/>
<rect x="537.3" y="72.62" width="30.20" height="9.6" fill="#ED7D31" stroke="#333" stroke-width="1.1"/>
<line x1="560.8" y1="72.62" x2="560.8" y2="82.22" stroke="#111" stroke-width="2"/>
<line x1="459.0" y1="77.42" x2="462.5" y2="77.42" stroke="#4d4d4d" stroke-width="1.1"/>
<line x1="489.6" y1="89.44" x2="658.2" y2="89.44" stroke="#333" stroke-width="1.1"/>
<rect x="560.1" y="84.64" width="72.20" height="9.6" fill="#ED7D31" stroke="#333" stroke-width="1.1"/>
<line x1="588.6" y1="84.64" x2="588.6" y2="94.24" stroke="#111" stroke-width="2"/>
<line x1="459.0" y1="89.44" x2="462.5" y2="89.44" stroke="#4d4d4d" stroke-width="1.1"/>
<line x1="475.1" y1="101.46" x2="659.8" y2="101.46" stroke="#333" stroke-width="1.1"/>
<rect x="505.4" y="96.66" width="106.40" height="9.6" fill="#00B0F0" stroke="#333" stroke-width="1.1"/>
<line x1="555.1" y1="96.66" x2="555.1" y2="106.26" stroke="#111" stroke-width="2"/>
<line x1="459.0" y1="101.46" x2="462.5" y2="101.46" stroke="#4d4d4d" stroke-width="1.1"/>
<line x1="526.2" y1="113.48" x2="663.9" y2="113.48" stroke="#333" stroke-width="1.1"/>
<rect x="574.9" y="108.68" width="50.70" height="9.6" fill="#E2F0D9" stroke="#333" stroke-width="1.1"/>
<line x1="587.6" y1="108.68" x2="587.6" y2="118.28" stroke="#111" stroke-width="2"/>
<line x1="459.0" y1="113.48" x2="462.5" y2="113.48" stroke="#4d4d4d" stroke-width="1.1"/>
<line x1="474.1" y1="125.50" x2="549.0" y2="125.50" stroke="#333" stroke-width="1.1"/>
<rect x="487.6" y="120.70" width="37.90" height="9.6" fill="#E2F0D9" stroke="#333" stroke-width="1.1"/>
<line x1="514.4" y1="120.70" x2="514.4" y2="130.30" stroke="#111" stroke-width="2"/>
<line x1="459.0" y1="125.50" x2="462.5" y2="125.50" stroke="#4d4d4d" stroke-width="1.1"/>
<line x1="483.5" y1="137.52" x2="626.3" y2="137.52" stroke="#333" stroke-width="1.1"/>
<rect x="541.3" y="132.72" width="67.20" height="9.6" fill="#70AD47" stroke="#333" stroke-width="1.1"/>
<line x1="564.1" y1="132.72" x2="564.1" y2="142.32" stroke="#111" stroke-width="2"/>
<line x1="459.0" y1="137.52" x2="462.5" y2="137.52" stroke="#4d4d4d" stroke-width="1.1"/>
<line x1="486.4" y1="149.54" x2="666.9" y2="149.54" stroke="#333" stroke-width="1.1"/>
<rect x="553.0" y="144.74" width="46.20" height="9.6" fill="#70AD47" stroke="#333" stroke-width="1.1"/>
<line x1="577.8" y1="144.74" x2="577.8" y2="154.34" stroke="#111" stroke-width="2"/>
<circle cx="475.3" cy="149.54" r="2.0" fill="#111"/>
<line x1="459.0" y1="149.54" x2="462.5" y2="149.54" stroke="#4d4d4d" stroke-width="1.1"/>
<line x1="519.0" y1="161.56" x2="567.0" y2="161.56" stroke="#333" stroke-width="1.1"/>
<rect x="528.2" y="156.76" width="17.40" height="9.6" fill="#4472C4" stroke="#333" stroke-width="1.1"/>
<line x1="538.2" y1="156.76" x2="538.2" y2="166.36" stroke="#111" stroke-width="2"/>
<circle cx="578.9" cy="161.56" r="2.0" fill="#111"/>
<line x1="459.0" y1="161.56" x2="462.5" y2="161.56" stroke="#4d4d4d" stroke-width="1.1"/>
<line x1="502.3" y1="173.58" x2="543.8" y2="173.58" stroke="#333" stroke-width="1.1"/>
<rect x="517.9" y="168.78" width="12.90" height="9.6" fill="#4472C4" stroke="#333" stroke-width="1.1"/>
<line x1="522.7" y1="168.78" x2="522.7" y2="178.38" stroke="#111" stroke-width="2"/>
<circle cx="490.1" cy="173.58" r="2.0" fill="#111"/>
<circle cx="496.4" cy="173.58" r="2.0" fill="#111"/>
<circle cx="499.4" cy="173.58" r="2.0" fill="#111"/>
<circle cx="551.2" cy="173.58" r="2.0" fill="#111"/>
<line x1="459.0" y1="173.58" x2="462.5" y2="173.58" stroke="#4d4d4d" stroke-width="1.1"/>
<line x1="473.5" y1="185.60" x2="546.7" y2="185.60" stroke="#333" stroke-width="1.1"/>
<rect x="498.6" y="180.80" width="24.10" height="9.6" fill="#4472C4" stroke="#333" stroke-width="1.1"/>
<line x1="505.7" y1="180.80" x2="505.7" y2="190.40" stroke="#111" stroke-width="2"/>
<line x1="459.0" y1="185.60" x2="462.5" y2="185.60" stroke="#4d4d4d" stroke-width="1.1"/>
<line x1="502.3" y1="197.62" x2="605.5" y2="197.62" stroke="#333" stroke-width="1.1"/>
<rect x="532.7" y="192.82" width="30.70" height="9.6" fill="#4472C4" stroke="#333" stroke-width="1.1"/>
<line x1="547.5" y1="192.82" x2="547.5" y2="202.42" stroke="#111" stroke-width="2"/>
<line x1="459.0" y1="197.62" x2="462.5" y2="197.62" stroke="#4d4d4d" stroke-width="1.1"/>
<line x1="479.8" y1="209.64" x2="582.6" y2="209.64" stroke="#333" stroke-width="1.1"/>
<rect x="506.8" y="204.84" width="37.70" height="9.6" fill="#4472C4" stroke="#333" stroke-width="1.1"/>
<line x1="527.1" y1="204.84" x2="527.1" y2="214.44" stroke="#111" stroke-width="2"/>
<line x1="459.0" y1="209.64" x2="462.5" y2="209.64" stroke="#4d4d4d" stroke-width="1.1"/>
<line x1="497.5" y1="221.66" x2="586.7" y2="221.66" stroke="#333" stroke-width="1.1"/>
<rect x="522.3" y="216.86" width="41.10" height="9.6" fill="#4472C4" stroke="#333" stroke-width="1.1"/>
<line x1="547.5" y1="216.86" x2="547.5" y2="226.46" stroke="#111" stroke-width="2"/>
<line x1="459.0" y1="221.66" x2="462.5" y2="221.66" stroke="#4d4d4d" stroke-width="1.1"/>
<line x1="503.1" y1="233.68" x2="648.0" y2="233.68" stroke="#333" stroke-width="1.1"/>
<rect x="537.1" y="228.88" width="46.60" height="9.6" fill="#4472C4" stroke="#333" stroke-width="1.1"/>
<line x1="567.8" y1="228.88" x2="567.8" y2="238.48" stroke="#111" stroke-width="2"/>
<line x1="459.0" y1="233.68" x2="462.5" y2="233.68" stroke="#4d4d4d" stroke-width="1.1"/>
<rect x="462.5" y="58.5" width="220.0" height="182.5" fill="none" stroke="#666" stroke-width="1.0"/>
<line x1="472.50" y1="241.0" x2="472.50" y2="244" stroke="#4d4d4d" stroke-width="1.1"/>
<text x="472.5" y="256.2" font-size="10.8" font-weight="bold" font-style="normal" text-anchor="middle" fill="#000" >0</text>
<line x1="529.74" y1="241.0" x2="529.74" y2="244" stroke="#4d4d4d" stroke-width="1.1"/>
<text x="529.74" y="256.2" font-size="10.8" font-weight="bold" font-style="normal" text-anchor="middle" fill="#000" >2</text>
<line x1="586.98" y1="241.0" x2="586.98" y2="244" stroke="#4d4d4d" stroke-width="1.1"/>
<text x="586.98" y="256.2" font-size="10.8" font-weight="bold" font-style="normal" text-anchor="middle" fill="#000" >4</text>
<line x1="644.22" y1="241.0" x2="644.22" y2="244" stroke="#4d4d4d" stroke-width="1.1"/>
<text x="644.22" y="256.2" font-size="10.8" font-weight="bold" font-style="normal" text-anchor="middle" fill="#000" >6</text>
<text x="489.6" y="279.6" font-size="16.4" font-weight="bold" textLength="67" lengthAdjust="spacingAndGlyphs">log<tspan font-size="11" dy="4.6">2</tspan><tspan dy="-4.6">-fold</tspan></text>
<text x="560.4" y="279.6" font-size="16.4" font-weight="bold" font-style="normal" text-anchor="start" textLength="32.6" lengthAdjust="spacingAndGlyphs" fill="#000" >ASV</text>
<text x="596.0" y="279.6" font-size="16.4" font-weight="bold" font-style="normal" text-anchor="start" textLength="58.2" lengthAdjust="spacingAndGlyphs" fill="#000" >change</text>
</svg>
</body></html>
